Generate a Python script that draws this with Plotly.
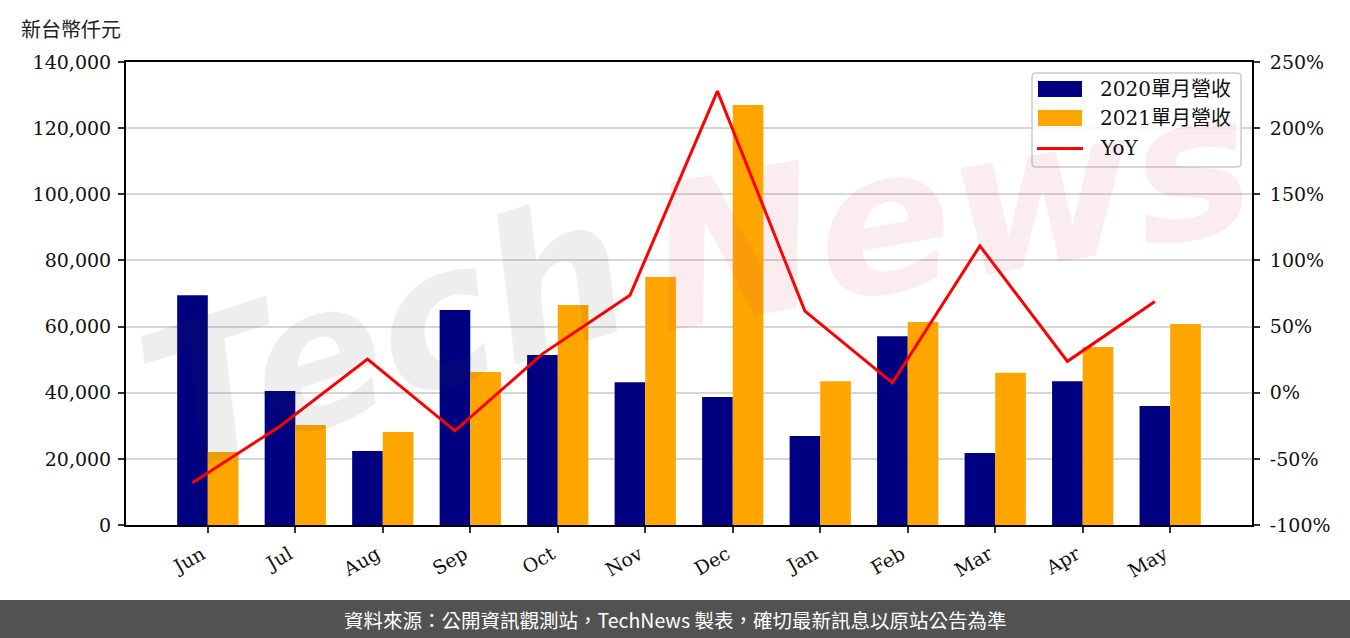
import plotly.graph_objects as go

# ---- data ----
months = ["Jun", "Jul", "Aug", "Sep", "Oct", "Nov", "Dec", "Jan", "Feb", "Mar", "Apr", "May"]
rev2020 = [69500, 40500, 22400, 65000, 51400, 43200, 38700, 26900, 57100, 21800, 43500, 36000]
rev2021 = [22100, 30200, 28100, 46300, 66500, 75000, 127000, 43500, 61400, 46000, 53800, 60800]
yoy = [-68.0, -25.4, 25.4, -28.8, 29.4, 73.6, 228.0, 61.7, 7.5, 111.0, 23.7, 68.9]

left_ticks = [0, 20000, 40000, 60000, 80000, 100000, 120000, 140000]
right_ticks = [-100, -50, 0, 50, 100, 150, 200, 250]
right_ticktext = ["-100%", "-50%", "0%", "50%", "100%", "150%", "200%", "250%"]

# ---- layout geometry (pixels) ----
W, H = 1350, 638
L, R, T, B = 126, 1252, 62, 525
BAR_W = 0.35

def px(x):
    return (x - L) / (R - L)

def py(y):
    return (B - y) / (B - T)

SERIF = "DejaVu Serif"
CJK = "Noto Sans CJK TC"

idx = list(range(len(months)))
line_x = [i - BAR_W / 2 for i in idx]

fig = go.Figure()
fig.add_trace(go.Bar(x=idx, y=rev2020, name="2020單月營收", marker_color="#000080",
                     marker_line_width=0, showlegend=False))
fig.add_trace(go.Bar(x=idx, y=rev2021, name="2021單月營收", marker_color="#FFA500",
                     marker_line_width=0, showlegend=False))
fig.add_trace(go.Scatter(x=line_x, y=yoy, name="YoY", mode="lines", yaxis="y2",
                         line=dict(color="#FF0000", width=3), showlegend=False))

shapes = []
annotations = []

# watermark
annotations.append(dict(text="Tech", x=px(385), y=py(335), xref="paper", yref="paper",
                        xanchor="center", yanchor="middle",
                        showarrow=False, textangle=-18,
                        font=dict(family="DejaVu Sans", size=195, color="rgba(60,60,60,0.085)",
                                  weight="bold", style="italic")))
annotations.append(dict(text="News", x=px(950), y=py(210), xref="paper", yref="paper",
                        xanchor="center", yanchor="middle",
                        showarrow=False, textangle=-10,
                        font=dict(family="DejaVu Sans", size=200, color="rgba(210,60,80,0.095)",
                                  weight="bold", style="italic")))

# legend (drawn manually)
def rounded_rect(x0, y0, x1, y1, r):
    p = "M{},{} L{},{} Q{},{} {},{} L{},{} Q{},{} {},{} L{},{} Q{},{} {},{} L{},{} Q{},{} {},{} Z"
    return p.format(
        px(x0 + r), py(y0), px(x1 - r), py(y0), px(x1), py(y0), px(x1), py(y0 + r),
        px(x1), py(y1 - r), px(x1), py(y1), px(x1 - r), py(y1),
        px(x0 + r), py(y1), px(x0), py(y1), px(x0), py(y1 - r),
        px(x0), py(y0 + r), px(x0), py(y0), px(x0 + r), py(y0))

shapes.append(dict(type="path", path=rounded_rect(1032, 73, 1241, 167, 4), xref="paper", yref="paper",
                   line=dict(color="#cccccc", width=1.5), fillcolor="rgba(255,255,255,0.8)", layer="above"))
shapes.append(dict(type="rect", x0=px(1038), x1=px(1082), y0=py(81), y1=py(97), xref="paper", yref="paper",
                   fillcolor="#000080", line=dict(width=0), layer="above"))
shapes.append(dict(type="rect", x0=px(1038), x1=px(1082), y0=py(110), y1=py(126), xref="paper", yref="paper",
                   fillcolor="#FFA500", line=dict(width=0), layer="above"))
shapes.append(dict(type="line", x0=px(1037), x1=px(1083), y0=py(148.5), y1=py(148.5), xref="paper", yref="paper",
                   line=dict(color="#FF0000", width=3), layer="above"))
for label, yy in [("2020單月營收", 89), ("2021單月營收", 118), ("YoY", 148)]:
    annotations.append(dict(text=label, x=px(1098), y=py(yy), xref="paper", yref="paper",
                            xanchor="left", yanchor="middle", showarrow=False,
                            font=dict(family=SERIF + ", " + CJK, size=20, color="#111111")))

# unit label
annotations.append(dict(text="新台幣仟元", x=px(19), y=py(28), xref="paper", yref="paper",
                        xanchor="left", yanchor="middle", showarrow=False,
                        font=dict(family=CJK, size=20, color="#222222")))

# footer band
shapes.append(dict(type="rect", x0=px(-5), x1=px(W + 5), y0=py(600), y1=py(H + 5), xref="paper", yref="paper",
                   fillcolor="#525252", line=dict(width=0), layer="above"))
annotations.append(dict(text="資料來源：公開資訊觀測站，TechNews 製表，確切最新訊息以原站公告為準",
                        x=px(675), y=py(619), xref="paper", yref="paper",
                        xanchor="center", yanchor="middle", showarrow=False,
                        font=dict(family=CJK, size=19.5, color="#ffffff")))

fig.update_layout(
    width=W, height=H,
    margin=dict(l=L, r=W - R, t=T, b=H - B, pad=0),
    paper_bgcolor="white", plot_bgcolor="white",
    barmode="group", bargap=1 - 2 * BAR_W, bargroupgap=0,
    showlegend=False,
    xaxis=dict(range=[-0.935, 11.935], tickvals=idx, ticktext=months, tickangle=-30,
               showgrid=False, zeroline=False, showline=True, linecolor="black", linewidth=2,
               mirror=True, ticks="outside", ticklen=6, tickwidth=2, tickcolor="#333333",
               ticklabelshift=-6, ticklabelstandoff=3,
               tickfont=dict(family=SERIF, size=19, color="#111111")),
    yaxis=dict(range=[0, 140000], tickvals=left_ticks, tickformat=",d",
               showgrid=True, gridcolor="#d6d6d6", gridwidth=1.5, zeroline=False,
               showline=True, linecolor="black", linewidth=2,
               ticks="outside", ticklen=6, tickwidth=2, tickcolor="#333333",
               ticklabelstandoff=3,
               tickfont=dict(family=SERIF, size=19, color="#111111")),
    yaxis2=dict(range=[-100, 250], tickvals=right_ticks, ticktext=right_ticktext,
                overlaying="y", side="right", showgrid=False, zeroline=False,
                showline=True, linecolor="black", linewidth=2,
                ticks="outside", ticklen=6, tickwidth=2, tickcolor="#333333",
                ticklabelstandoff=6,
                tickfont=dict(family=SERIF, size=19, color="#111111")),
    shapes=shapes,
    annotations=annotations,
)

fig.write_html("out.html", config={"displayModeBar": False},
               post_script="document.body.style.margin='0';document.body.style.padding='0';")
